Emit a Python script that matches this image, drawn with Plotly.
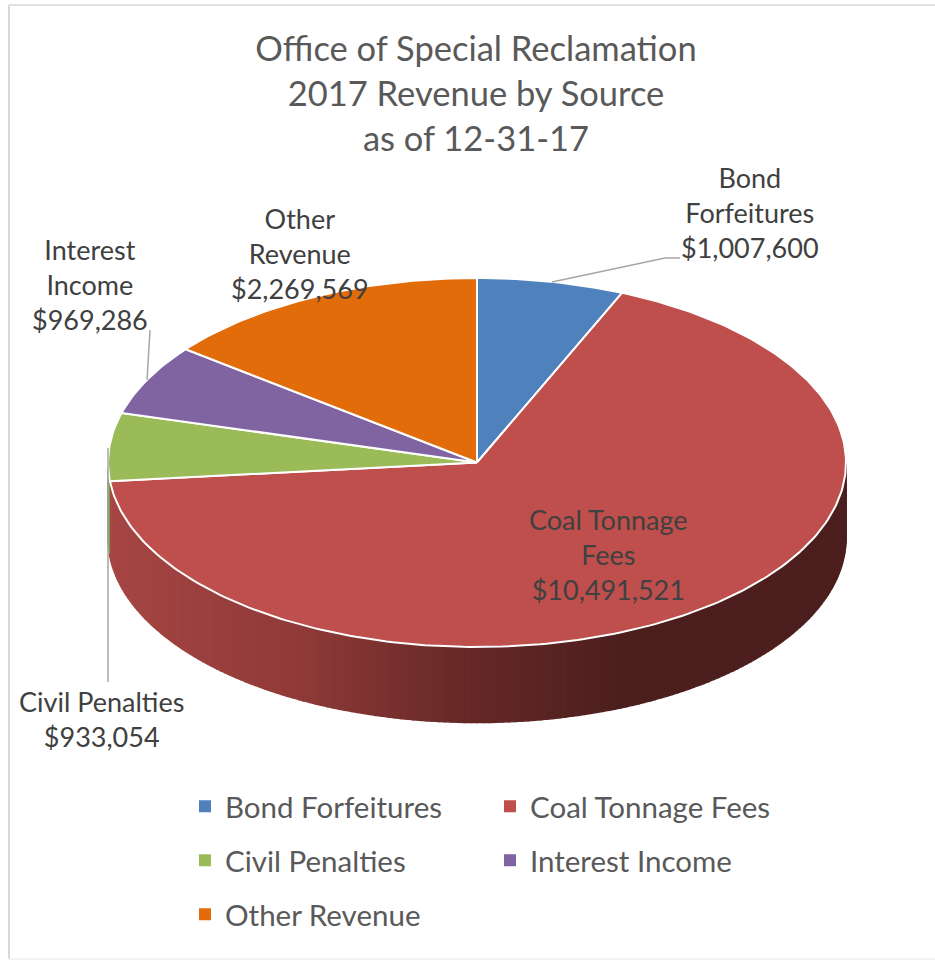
import math
import plotly.graph_objects as go

# ---- data ----
categories = ["Bond Forfeitures", "Coal Tonnage Fees", "Civil Penalties", "Interest Income", "Other Revenue"]
revenue = [1007600, 10491521, 933054, 969286, 2269569]
title_lines = ["Office of Special Reclamation", "2017 Revenue by Source", "as of 12-31-17"]

# ---- styles ----
colors = ["#4F81BD", "#BE4F4C", "#9BBB59", "#8064A2", "#E26B0A"]
TEXT = "#404040"
TITLE = "#595959"
LEADER = "#A6A6A6"
BORDER = "#D9D9D9"
FONT = "Lato"

# ---- geometry of the tilted pie, in page pixels ----
CX, CY, RX, RY, DEPTH = 477, 462.5, 369, 184.5, 75.5


def ell(t, dy=0.0):
    return CX + RX * math.sin(t), CY - RY * math.cos(t) + dy


def arc(t0, t1, dy=0.0, step=math.radians(1)):
    n = max(2, int(abs(t1 - t0) / step) + 1)
    return [ell(t0 + (t1 - t0) * i / (n - 1), dy) for i in range(n)]


def mix(a, b, f):
    return tuple(round(a[i] + (b[i] - a[i]) * f) for i in range(3))


wall_stops = [(108, (166, 70, 68)), (300, (143, 58, 56)), (450, (105, 42, 40)), (620, (76, 31, 30)), (846, (76, 31, 30))]


def wall_color(x):
    for (x0, c0), (x1, c1) in zip(wall_stops, wall_stops[1:]):
        if x <= x1:
            return "rgb(%d,%d,%d)" % mix(c0, c1, (x - x0) / (x1 - x0))
    return "rgb(76,31,30)"


total = sum(revenue)
edges = [0.0]
for v in revenue:
    edges.append(edges[-1] + v / total * 2 * math.pi)

fig = go.Figure()

# side wall: visible from the right extreme (90 deg) round to the left extreme (270 deg)
a0, a1 = math.pi / 2, 3 * math.pi / 2
coal_end = edges[2]
N = 180
for i in range(N):
    t0 = a0 + (a1 - a0) * i / N
    t1 = a0 + (a1 - a0) * (i + 1) / N
    top = arc(t0, t1)
    bot = arc(t1, t0, DEPTH)
    pts = top + bot + [top[0]]
    xm = sum(p[0] for p in top) / len(top)
    col = wall_color(xm) if t0 < coal_end else "#7F9A48"
    fig.add_trace(go.Scatter(x=[p[0] for p in pts], y=[p[1] for p in pts], mode="lines", fill="toself",
                             fillcolor=col, line=dict(color=col, width=1.5), hoverinfo="skip", showlegend=False))

# top face sectors
for name, col, e0, e1 in zip(categories, colors, edges, edges[1:]):
    pts = [(CX, CY)] + arc(e0, e1) + [(CX, CY)]
    fig.add_trace(go.Scatter(x=[p[0] for p in pts], y=[p[1] for p in pts], mode="lines", fill="toself",
                             fillcolor=col, line=dict(color="white", width=2), name=name, hoverinfo="name",
                             showlegend=False))

# leader lines
for lx, ly in [([552, 665, 680], [282, 258, 258]), ([147, 150], [380, 330]), ([108, 108], [448, 682])]:
    fig.add_trace(go.Scatter(x=lx, y=ly, mode="lines", line=dict(color=LEADER, width=1.5), hoverinfo="skip",
                             showlegend=False))

# data labels
label_breaks = ["Bond<br>Forfeitures", "Coal Tonnage<br>Fees", "Civil Penalties", "Interest<br>Income", "Other<br>Revenue"]
label_pos = [(750, 212), (608, 554.5), (101, 718.5), (90, 284), (300, 253)]
annotations = []
for txt, v, (lx, ly) in zip(label_breaks, revenue, label_pos):
    annotations.append(dict(x=lx, y=ly, xref="x", yref="y", text=f"{txt}<br>${v:,}", showarrow=False,
                            xanchor="center", yanchor="middle", align="center",
                            font=dict(family=FONT, size=27, color=TEXT)))

# legend: one positioned legend per entry so the row spacing follows the original
legend_pos = [(185, 806.5), (490, 806.5), (185, 860.5), (490, 860.5), (185, 914.5)]
layout_legends = {}
for i, (name, col, (lx, ly)) in enumerate(zip(categories, colors, legend_pos)):
    key = "legend" if i == 0 else f"legend{i + 1}"
    fig.add_trace(go.Scatter(x=[None], y=[None], mode="markers", name=name, legend=key,
                             marker=dict(symbol="square", size=12, color=col), showlegend=True))
    layout_legends[key] = dict(x=lx / 935, y=1 - ly / 960, xanchor="left", yanchor="middle",
                               bgcolor="rgba(0,0,0,0)", font=dict(family=FONT, size=29.5, color=TITLE))

fig.update_layout(
    width=935, height=960, margin=dict(l=0, r=0, t=0, b=0),
    paper_bgcolor="white", plot_bgcolor="white",
    title=dict(text="<br>".join(title_lines), x=476 / 935, xanchor="center", y=1 - 61 / 960, yanchor="middle",
               font=dict(family=FONT, size=34.5, color=TITLE)),
    xaxis=dict(range=[0, 935], visible=False, fixedrange=True),
    yaxis=dict(range=[960, 0], visible=False, fixedrange=True),
    annotations=annotations,
    shapes=[
        dict(type="line", xref="x", yref="y", x0=9, x1=9, y0=5, y1=959, line=dict(color=BORDER, width=2)),
        dict(type="line", xref="x", yref="y", x0=9, x1=935, y0=5, y1=5, line=dict(color=BORDER, width=1.5)),
        dict(type="line", xref="x", yref="y", x0=9, x1=935, y0=959, y1=959, line=dict(color="#EEEEEE", width=1.5)),
    ],
    **layout_legends,
)
fig.write_html("out.html", config={"displayModeBar": False},
               post_script="document.body.style.margin='0';document.body.style.overflow='hidden';")
